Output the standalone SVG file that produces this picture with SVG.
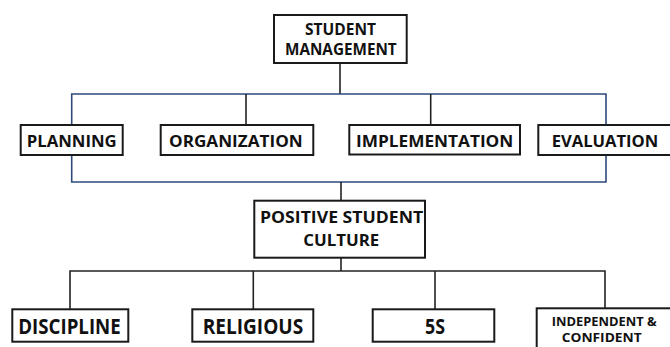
<svg xmlns="http://www.w3.org/2000/svg" width="670" height="347" viewBox="0 0 670 347">
  <style>
    .box { fill: #ffffff; stroke: #1a1a1a; stroke-width: 2; }
    .lbl { font-family: "Open Sans", "Liberation Sans", sans-serif; font-weight: bold; fill: #111111; text-anchor: start; }
    .blue { fill: none; stroke: #2e4a7d; stroke-width: 1.6; }
    .dark { fill: none; stroke: #222222; stroke-width: 1.6; }
  </style>
  <rect width="670" height="347" fill="#ffffff"/>

  <g id="connectors">
    <line class="dark" x1="340" y1="63" x2="340" y2="94"/>
    <polyline class="blue" points="71.7,125 71.7,94 606,94 606,125"/>
    <line class="dark" x1="246" y1="94" x2="246" y2="125"/>
    <line class="dark" x1="430.7" y1="94" x2="430.7" y2="125"/>
    <polyline class="blue" points="71.7,155 71.7,182 606,182 606,155"/>
    <line class="dark" x1="341" y1="182" x2="341" y2="200.7"/>
    <line class="dark" x1="341" y1="257.7" x2="341" y2="271"/>
    <polyline class="dark" points="70,309 70,271 605,271 605,308"/>
    <line class="dark" x1="253.3" y1="271" x2="253.3" y2="309"/>
    <line class="dark" x1="435" y1="271" x2="435" y2="309"/>
  </g>

  <g id="student-management">
    <rect class="box" x="274" y="15" width="132.7" height="48"/>
    <text class="lbl" x="305" y="34.5" font-size="15.5" textLength="71" lengthAdjust="spacingAndGlyphs">STUDENT</text>
    <text class="lbl" x="285" y="55.2" font-size="15.5" textLength="111.7" lengthAdjust="spacingAndGlyphs">MANAGEMENT</text>
  </g>

  <g id="planning">
    <rect class="box" x="20.7" y="125" width="102" height="30"/>
    <text class="lbl" x="26.7" y="146.8" font-size="16.6" textLength="90" lengthAdjust="spacingAndGlyphs">PLANNING</text>
  </g>

  <g id="organization">
    <rect class="box" x="160.7" y="125" width="152.6" height="30"/>
    <text class="lbl" x="169" y="146.8" font-size="16.6" textLength="133.7" lengthAdjust="spacingAndGlyphs">ORGANIZATION</text>
  </g>

  <g id="implementation">
    <rect class="box" x="349.3" y="125" width="170.7" height="29.5"/>
    <text class="lbl" x="356" y="146.6" font-size="16.6" textLength="157.3" lengthAdjust="spacingAndGlyphs">IMPLEMENTATION</text>
  </g>

  <g id="evaluation">
    <rect class="box" x="538.3" y="125" width="140" height="30"/>
    <text class="lbl" x="551.7" y="146.8" font-size="16.6" textLength="106.6" lengthAdjust="spacingAndGlyphs">EVALUATION</text>
  </g>

  <g id="positive-student-culture">
    <rect class="box" x="254.3" y="200.7" width="170.7" height="57"/>
    <text class="lbl" x="260" y="222.8" font-size="16.6" textLength="163.3" lengthAdjust="spacingAndGlyphs">POSITIVE STUDENT</text>
    <text class="lbl" x="303.3" y="245.8" font-size="16.6" textLength="76" lengthAdjust="spacingAndGlyphs">CULTURE</text>
  </g>

  <g id="discipline">
    <rect class="box" x="12.3" y="309.3" width="116" height="32.4"/>
    <text class="lbl" x="18.3" y="334.2" font-size="20.6" textLength="102.4" lengthAdjust="spacingAndGlyphs">DISCIPLINE</text>
  </g>

  <g id="religious">
    <rect class="box" x="192.3" y="309.3" width="121" height="32.4"/>
    <text class="lbl" x="202.7" y="334.2" font-size="20.6" textLength="100.6" lengthAdjust="spacingAndGlyphs">RELIGIOUS</text>
  </g>

  <g id="five-s">
    <rect class="box" x="372.7" y="309.3" width="121.6" height="32.4"/>
    <text class="lbl" x="425" y="334.2" font-size="20.6" textLength="20" lengthAdjust="spacingAndGlyphs">5S</text>
  </g>

  <g id="independent-confident">
    <rect class="box" x="536.7" y="308.3" width="140" height="45"/>
    <text class="lbl" x="551.7" y="326.2" font-size="12.6" textLength="105" lengthAdjust="spacingAndGlyphs">INDEPENDENT &amp;</text>
    <text class="lbl" x="561.7" y="341.9" font-size="12.6" textLength="80" lengthAdjust="spacingAndGlyphs">CONFIDENT</text>
  </g>
</svg>
